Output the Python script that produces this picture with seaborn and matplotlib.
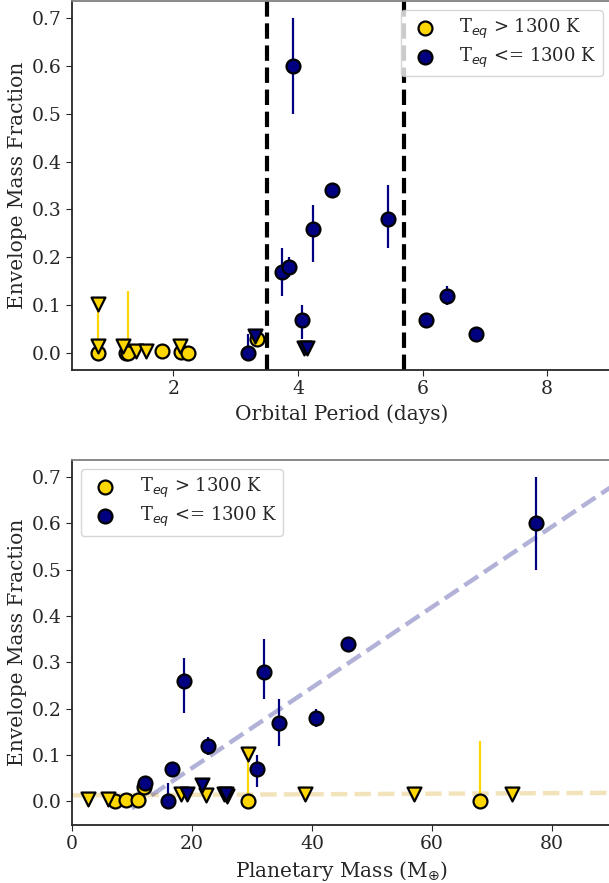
import numpy as np
import pandas as pd
import matplotlib
matplotlib.use("Agg")
import matplotlib.pyplot as plt
import seaborn as sns

# ---------------- data ----------------
HOT_LABEL = r"T$_{eq}$ > 1300 K"
COOL_LABEL = r"T$_{eq}$ <= 1300 K"

# top panel: orbital period (days)
hot_period = [0.79, 1.24, 1.28, 1.82, 2.13, 2.24, 3.35]
hot_period_frac = [0.0, 0.0, 0.0, 0.005, 0.003, 0.0, 0.03]
hot_period_err_hi = [0.1, 0.0, 0.13, 0.0, 0.0, 0.0, 0.0]
hot_period_lim = [0.79, 0.79, 1.19, 1.40, 1.56, 2.11]
hot_period_lim_frac = [0.103, 0.014, 0.014, 0.005, 0.005, 0.014]

cool_period = [3.19, 3.74, 3.86, 3.92, 4.06, 4.24, 4.55, 5.45, 6.05, 6.40, 6.85]
cool_period_frac = [0.0, 0.17, 0.18, 0.6, 0.07, 0.26, 0.34, 0.28, 0.07, 0.12, 0.04]
cool_period_err_lo = [0.0, 0.05, 0.02, 0.1, 0.04, 0.07, 0.0, 0.06, 0.0, 0.02, 0.0]
cool_period_err_hi = [0.04, 0.05, 0.02, 0.1, 0.03, 0.05, 0.0, 0.07, 0.0, 0.02, 0.0]
cool_period_lim = [3.31, 4.09, 4.14]
cool_period_lim_frac = [0.035, 0.01, 0.01]

# bottom panel: planetary mass (Earth masses)
hot_mass = [7.2, 9.0, 11.05, 12.05, 29.3, 68.05]
hot_mass_frac = [0.0, 0.002, 0.002, 0.03, 0.0, 0.0]
hot_mass_err_hi = [0.0, 0.0, 0.0, 0.0, 0.1, 0.13]
hot_mass_lim = [2.77, 6.1, 18.15, 22.3, 25.9, 29.3, 38.9, 57.05, 73.3]
hot_mass_lim_frac = [0.006, 0.006, 0.015, 0.013, 0.012, 0.103, 0.015, 0.017, 0.017]

cool_mass = [12.2, 16.05, 16.65, 18.7, 22.7, 30.8, 32.05, 34.55, 40.65, 46.1, 77.4]
cool_mass_frac = [0.04, 0.0, 0.07, 0.26, 0.12, 0.07, 0.28, 0.17, 0.18, 0.34, 0.6]
cool_mass_err_lo = [0.0, 0.0, 0.0, 0.07, 0.02, 0.04, 0.06, 0.05, 0.02, 0.0, 0.1]
cool_mass_err_hi = [0.0, 0.04, 0.0, 0.05, 0.02, 0.03, 0.07, 0.05, 0.02, 0.0, 0.1]
cool_mass_lim = [19.15, 21.65, 25.3, 25.65]
cool_mass_lim_frac = [0.015, 0.035, 0.015, 0.015]

# linear fits (slope, intercept, x range)
cool_fit = (0.00869, -0.102, [10, 95])
hot_fit = (0.00006, 0.013, [0, 95])

# period boundaries (dashed lines)
period_lines = [3.5, 5.7]

HOT_COLOR = "gold"
COOL_COLOR = "navy"

# ---------------- style ----------------
sns.set_style("ticks")
plt.rcParams["font.family"] = ["DejaVu Serif"]
plt.rcParams["font.size"] = 13.5
plt.rcParams["mathtext.fontset"] = "dejavusans"

fig = plt.figure(figsize=(6.09, 8.83), dpi=100)
ax_top = fig.add_axes([0.1179, 0.5810, 0.8870, 0.4179])
ax_bot = fig.add_axes([0.1179, 0.0662, 0.8870, 0.4128])

MS = 100


def draw_points(ax, x, y, lo, hi, color, label):
    ax.errorbar(x, y, yerr=[lo, hi], fmt="none", ecolor=color,
                elinewidth=1.6, capsize=0, zorder=2)
    sns.scatterplot(x=x, y=y, ax=ax, color=color, edgecolor="black",
                    linewidth=1.6, s=MS, marker="o", label=label, zorder=3)


def draw_limits(ax, x, y, color):
    sns.scatterplot(x=x, y=y, ax=ax, color=color, edgecolor="black",
                    linewidth=1.6, s=MS, marker="v", legend=False, zorder=3)


def style_axes(ax):
    for side in ["left", "bottom"]:
        ax.spines[side].set_color("#262626")
        ax.spines[side].set_linewidth(1.3)
    for side in ["top", "right"]:
        ax.spines[side].set_visible(True)
        ax.spines[side].set_color("#808080")
        ax.spines[side].set_linewidth(1.3)
    ax.tick_params(labelsize=13.5, length=4, color="#262626")
    ax.set_ylabel("Envelope Mass Fraction", fontsize=14.5, labelpad=3)


def add_legend(ax, loc):
    ax.legend(loc=loc, fontsize=13, labelspacing=0.3, borderpad=0.35,
              handletextpad=0.9)


# ---------------- top: period ----------------
draw_points(ax_top, hot_period, hot_period_frac,
            [0.0] * len(hot_period), hot_period_err_hi, HOT_COLOR, HOT_LABEL)
draw_limits(ax_top, hot_period_lim, hot_period_lim_frac, HOT_COLOR)
draw_points(ax_top, cool_period, cool_period_frac,
            cool_period_err_lo, cool_period_err_hi, COOL_COLOR, COOL_LABEL)
draw_limits(ax_top, cool_period_lim, cool_period_lim_frac, COOL_COLOR)
for p in period_lines:
    ax_top.axvline(p, color="black", linestyle="--", linewidth=3, zorder=1)

ax_top.set_xlim(0.37, 9.04)
ax_top.set_ylim(-0.035, 0.735)
ax_top.set_xticks([2, 4, 6, 8])
ax_top.set_yticks(np.arange(0, 0.71, 0.1))
ax_top.set_xlabel("Orbital Period (days)", fontsize=14.5)
style_axes(ax_top)
add_legend(ax_top, "upper right")

# ---------------- bottom: mass ----------------
for slope, icept, xr in [hot_fit, cool_fit]:
    col = "goldenrod" if slope < 0.001 else COOL_COLOR
    fit_df = pd.DataFrame({"m": xr, "f": [slope * v + icept for v in xr]})
    sns.lineplot(data=fit_df, x="m", y="f", ax=ax_bot, color=col, alpha=0.3,
                 linestyle="--", linewidth=3.2, zorder=1)

draw_points(ax_bot, hot_mass, hot_mass_frac,
            [0.0] * len(hot_mass), hot_mass_err_hi, HOT_COLOR, HOT_LABEL)
draw_limits(ax_bot, hot_mass_lim, hot_mass_lim_frac, HOT_COLOR)
draw_points(ax_bot, cool_mass, cool_mass_frac,
            cool_mass_err_lo, cool_mass_err_hi, COOL_COLOR, COOL_LABEL)
draw_limits(ax_bot, cool_mass_lim, cool_mass_lim_frac, COOL_COLOR)

ax_bot.set_xlim(0, 90)
ax_bot.set_ylim(-0.05, 0.737)
ax_bot.set_xticks([0, 20, 40, 60, 80])
ax_bot.set_yticks(np.arange(0, 0.71, 0.1))
ax_bot.set_xlabel(r"Planetary Mass (M$_{\oplus}$)", fontsize=14.5)
style_axes(ax_bot)
add_legend(ax_bot, "upper left")

fig.savefig("out.png", dpi=100)
